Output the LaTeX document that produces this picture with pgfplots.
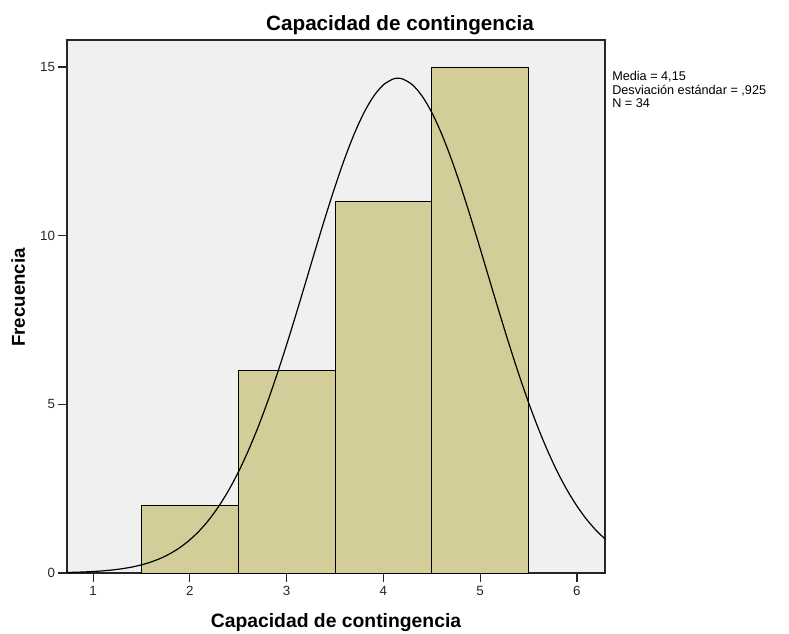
\documentclass[border=0pt]{standalone}
\usepackage{pgfplots}
\pgfplotsset{compat=1.18}
\usepackage{fontspec}
\setmainfont{Liberation Sans}
\definecolor{barfill}{RGB}{211,206,153}
\definecolor{bgfill}{RGB}{240,240,240}
\begin{document}
\begin{tikzpicture}
\path[use as bounding box] (-50.25pt,-45pt) rectangle (541.5pt,429.75pt);
\begin{axis}[
  at={(0pt,0pt)}, anchor=south west,
  scale only axis,
  width=403.5pt, height=399.75pt,
  xmin=0.73, xmax=6.29, ymin=0, ymax=15.8,
  xtick={1,2,3,4,5,6}, ytick={0,5,10,15},
  tick pos=left, tick align=outside,
  major tick length=6.5pt,
  axis line style={black!85, line width=0.9pt},
  every tick/.style={black!85, line width=0.9pt},
  tick label style={font=\fontsize{10}{11}\selectfont, text=black!85},
  yticklabel style={xshift=1pt},
  /pgf/number format/assume math mode=true,
  axis background/.style={fill=bgfill},
  clip=true,
]
\addplot[ybar interval, fill=barfill, draw=black, line width=0.7pt] coordinates {
  (1.5,2) (2.5,6) (3.5,11) (4.5,15) (5.5,15)
};
\addplot[black, line width=0.9pt, smooth, no marks] coordinates {
(0.7,0.0140) (0.8,0.0208) (0.9,0.0306) (1.0,0.0445) (1.1,0.0639) (1.2,0.0908)
(1.3,0.1273) (1.4,0.1766) (1.5,0.2421) (1.6,0.3281) (1.7,0.4393) (1.8,0.5819)
(1.9,0.7612) (2.0,0.9844) (2.1,1.2577) (2.2,1.589) (2.3,1.9846) (2.4,2.449)
(2.5,2.987) (2.6,3.602) (2.7,4.292) (2.8,5.055) (2.9,5.885) (3.0,6.771)
(3.1,7.699) (3.2,8.653) (3.3,9.615) (3.4,10.557) (3.5,11.456) (3.6,12.289)
(3.7,13.027) (3.8,13.651) (3.9,14.137) (4.0,14.472) (4.1,14.643) (4.15,14.664)
(4.2,14.643) (4.3,14.472) (4.4,14.137) (4.5,13.651) (4.6,13.027) (4.7,12.289)
(4.8,11.456) (4.9,10.557) (5.0,9.615) (5.1,8.653) (5.2,7.699) (5.3,6.771)
(5.4,5.885) (5.5,5.055) (5.6,4.292) (5.7,3.602) (5.8,2.987) (5.9,2.449)
(6.0,1.985) (6.1,1.589) (6.2,1.258) (6.3,0.984)
};
\end{axis}
\node[anchor=base, font=\bfseries\fontsize{15.5}{17}\selectfont] at (249.75pt,406.5pt) {Capacidad de contingencia};
\node[anchor=base, font=\bfseries\fontsize{14.5}{16}\selectfont] at (201.75pt,-40.5pt) {Capacidad de contingencia};
\node[anchor=base, font=\bfseries\fontsize{14}{16}\selectfont, rotate=90] at (-31.5pt,206.6pt) {Frecuencia};
\node[anchor=north west, inner sep=0pt, align=left, font=\fontsize{9.5}{10.2}\selectfont] at (408.75pt,376.5pt) {Media = 4,15\\Desviación estándar = ,925\\N = 34};
\end{tikzpicture}
\end{document}
